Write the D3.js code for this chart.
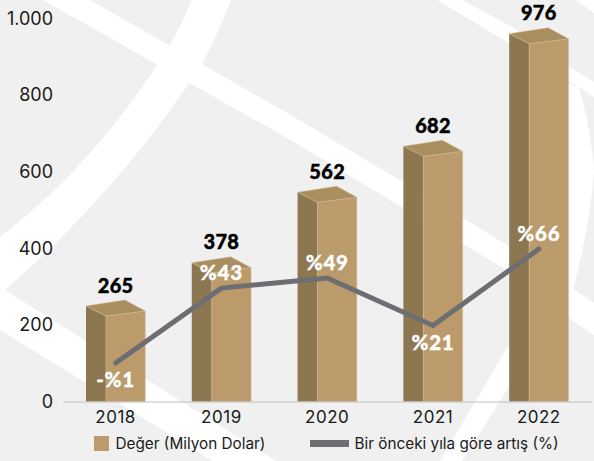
<!DOCTYPE html>
<html>
<head>
<meta charset="utf-8">
<script src="https://cdn.jsdelivr.net/npm/d3@7"></script>
<style>
  body { margin: 0; background: #f0f0f0; }
  svg { display: block; }
  text { font-family: Inter, "Open Sans", sans-serif; fill: #1a1a1a; }
  .val { font-family: Lato, sans-serif; font-weight: 900; font-size: 20px; fill: #000; stroke: #000; stroke-width: 0.4; letter-spacing: 0.3px; }
  .pct { font-family: Lato, sans-serif; font-weight: 900; font-size: 20.5px; fill: #fff; stroke: #fff; stroke-width: 0.3; letter-spacing: 0.8px; }
</style>
</head>
<body>
<svg id="chart" width="594" height="461"></svg>
<script>
const years = ["2018", "2019", "2020", "2021", "2022"];
const values = [265, 378, 562, 682, 976];
const growth = [-1, 43, 49, 21, 66];
const yTicks = [0, 200, 400, 600, 800, 1000];
const legendBar = "Değer (Milyon Dolar)";
const legendLine = "Bir önceki yıla göre artış (%)";

const svg = d3.select("#chart");

// white background swooshes
const swooshes = [
    "M43,0 L90,0 L294,117 L463,218 L510,247 L594,303 L594,335 L569,318 L507,270 L463,244 L294,142 Z",
    "M437,0 L462,0 L514,28 L569,67 L594,82 L594,97 L579,87 L509,43 Z",
    "M576,0 L594,0 L594,13 Z",
    "M192,0 L231,0 Q218,34 202,64 Q120,190 5,290 L276,461 L213,461 L0,330 L0,237 Q100,160 171,43 Q183,22 192,0 Z",
    "M440,461 L475,402 L510,343 L560,260 L560,80 L579,87 Q592,135 594,172 Q590,225 573,290 L510,385 L462,461 Z"
];
svg.selectAll(".swoosh").data(swooshes).enter().append("path")
    .attr("class", "swoosh")
    .attr("d", d => d)
    .attr("fill", "#fff");

const x = d3.scaleBand()
    .domain(years)
    .range([62.7, 591.7])
    .paddingInner(0.44)
    .paddingOuter(0.22);

const y = d3.scaleLinear()
    .domain([0, 1000])
    .range([401.5, 18.5]);

const y2 = d3.scaleLinear()
    .domain([-1, 66])
    .range([363, 249]);

const bars = years.map((year, i) => ({ year, value: values[i], growth: growth[i] }));

// fake 3d column: far corner of the top sits on the value
const depth = 20, rise = 16;
const bar = svg.selectAll(".bar").data(bars).enter().append("g").attr("class", "bar");

bar.append("path")
    .attr("fill", "#8c7750")
    .attr("d", d => {
        const x0 = x(d.year), top = y(d.value);
        return `M${x0},${top + 6}L${x0 + depth},${top + rise}V${y(0)}H${x0}Z`;
    });

bar.append("path")
    .attr("fill", "#bb9b6b")
    .attr("stroke", "#cfbc97")
    .attr("stroke-width", 0.6)
    .attr("d", d => {
        const x0 = x(d.year), top = y(d.value), w = x.bandwidth();
        return `M${x0 + depth},${top + rise}L${x0 + w},${top + 11}V${y(0)}H${x0 + depth}Z`;
    });

bar.append("path")
    .attr("fill", "#a98e5f")
    .attr("stroke", "#cfbc97")
    .attr("stroke-width", 0.5)
    .attr("d", d => {
        const x0 = x(d.year), top = y(d.value), w = x.bandwidth();
        return `M${x0},${top + 6}L${x0 + 39},${top}L${x0 + w},${top + 11}L${x0 + depth},${top + rise}Z`;
    });

const axisX = svg.append("g")
    .attr("transform", `translate(0,${y(0)})`)
    .call(d3.axisBottom(x).tickSize(0).tickPadding(9.5));
axisX.select(".domain").attr("stroke", "#bdbdbd").attr("stroke-width", 1.2);
axisX.selectAll("text").style("font-size", "17px").style("letter-spacing", "0.5px").style("font-family", "Inter, sans-serif");

const axisY = svg.append("g")
    .attr("transform", "translate(53,0)")
    .call(d3.axisLeft(y).tickValues(yTicks).tickSize(0).tickPadding(0)
        .tickFormat(d => d === 1000 ? "1.000" : d));
axisY.select(".domain").remove();
axisY.selectAll("text").style("font-size", "18px").style("font-family", "Inter, sans-serif");

svg.selectAll(".val").data(bars).enter().append("text")
    .attr("class", "val")
    .attr("text-anchor", "middle")
    .attr("x", d => x(d.year) + x.bandwidth() / 2)
    .attr("y", d => y(d.value) - 7.5)
    .text(d => d.value);

const line = d3.line()
    .x(d => x(d.year) + x.bandwidth() / 2)
    .y(d => y2(d.growth));

svg.append("path")
    .datum(bars)
    .attr("fill", "none")
    .attr("stroke", "#6d6e71")
    .attr("stroke-width", 5)
    .attr("stroke-linecap", "round")
    .attr("stroke-linejoin", "round")
    .attr("d", line);

svg.selectAll(".pct").data(bars).enter().append("text")
    .attr("class", "pct")
    .attr("text-anchor", "middle")
    .attr("x", d => x(d.year) + x.bandwidth() / 2)
    .attr("y", d => y2(d.growth) + (d.growth < 25 ? 24 : -8))
    .text(d => d.growth < 0 ? `-%${-d.growth}` : `%${d.growth}`);

// legend
svg.append("rect").attr("x", 94).attr("y", 436).attr("width", 15).attr("height", 15).attr("fill", "#bb9b6b");
svg.append("text").attr("x", 115.5).attr("y", 449).style("font-size", "15.3px").text(legendBar);
svg.append("rect").attr("x", 310).attr("y", 440).attr("width", 39).attr("height", 7).attr("fill", "#6d6e71");
svg.append("text").attr("x", 354.5).attr("y", 449).style("font-size", "15.3px").text(legendLine);
</script>
</body>
</html>
